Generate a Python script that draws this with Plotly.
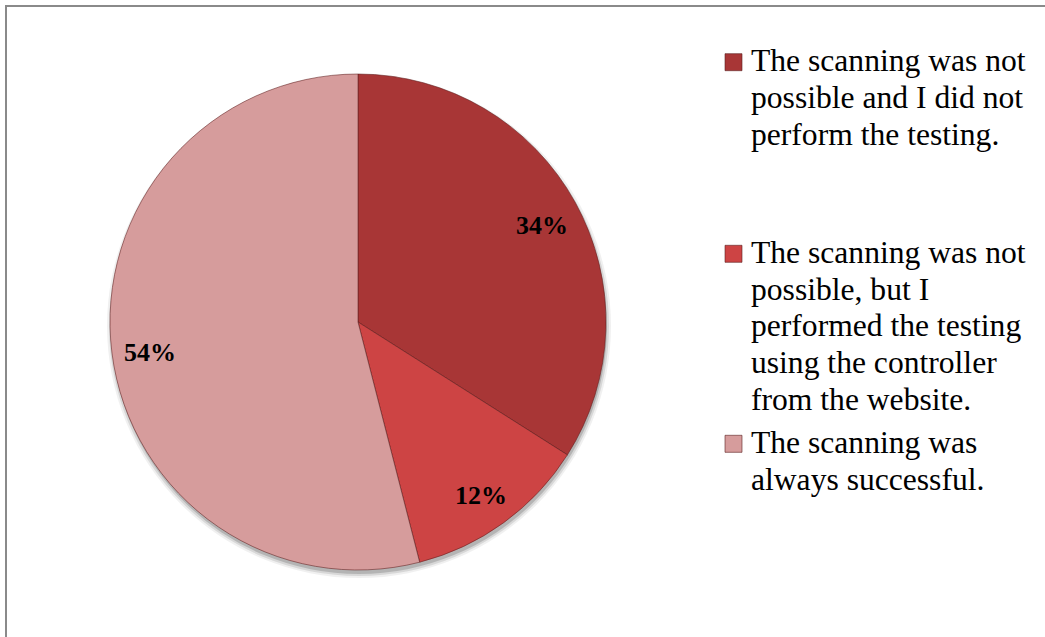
import plotly.graph_objects as go
import math

# Survey answers about the scanning step
categories = [
    "The scanning was not<br>possible and I did not<br>perform the testing.",
    "The scanning was not<br>possible, but I<br>performed the testing<br>using the controller<br>from the website.",
    "The scanning was<br>always successful.",
]
shares = [34, 12, 54]
slice_colors = ["#A83636", "#CD4444", "#D69C9C"]

W, H = 1045, 637
SERIF = "Liberation Serif, Times New Roman, serif"

# pie geometry in pixels
CX, CY, R = 358, 322, 248


def px(x):
    return x / W


def py(y):
    return 1 - y / H


fig = go.Figure()

fig.add_trace(go.Pie(
    labels=[c.replace("<br>", " ") for c in categories],
    values=shares,
    sort=False,
    direction="clockwise",
    rotation=0,
    marker=dict(colors=slice_colors, line=dict(color="rgba(95,30,30,0.55)", width=1)),
    textinfo="none",
    hoverinfo="label+percent",
    showlegend=False,
    domain=dict(x=[px(CX - R), px(CX + R)], y=[py(CY + R), py(CY - R)]),
))

shapes = []
annotations = []

# soft drop shadow beneath the pie
for grow, alpha in [(4, 0.06), (2, 0.10), (0, 0.16)]:
    shapes.append(dict(
        type="circle", xref="paper", yref="paper", layer="below",
        x0=px(CX - R - grow + 1), x1=px(CX + R + grow + 1),
        y0=py(CY + R + grow + 4), y1=py(CY - R - grow + 4),
        fillcolor=f"rgba(0,0,0,{alpha})", line=dict(width=0),
    ))

# percentage labels placed along each slice's mid-angle
total = sum(shares)
cum = 0
for v in shares:
    mid = (cum + v / 2) / total * 2 * math.pi
    cum += v
    r = 0.845 * R
    lx = CX + r * math.sin(mid)
    ly = CY - r * math.cos(mid) + 4
    annotations.append(dict(
        x=px(lx), y=py(ly), xref="paper", yref="paper",
        text=f"<b>{round(v / total * 100)}%</b>", showarrow=False,
        font=dict(family=SERIF, size=26, color="black"),
        xanchor="center", yanchor="middle",
    ))

# legend drawn line by line
LEG_FONT = 31.6
LINE_STEP = 36.7
first_baselines = [71.7, 263.3, 453.3]
for cat, color, base in zip(categories, slice_colors, first_baselines):
    shapes.append(dict(
        type="rect", xref="paper", yref="paper",
        x0=px(725), x1=px(742), y0=py(base - 1), y1=py(base - 18),
        fillcolor=color, line=dict(color="rgba(90,30,30,0.6)", width=1),
    ))
    for i, line in enumerate(cat.split("<br>")):
        bl = base + i * LINE_STEP
        annotations.append(dict(
            x=px(749), y=py(bl - 11), xref="paper", yref="paper",
            text=line, showarrow=False,
            font=dict(family=SERIF, size=LEG_FONT, color="black"),
            xanchor="left", yanchor="middle",
        ))

# chart frame
shapes.append(dict(
    type="rect", xref="paper", yref="paper",
    x0=px(6), x1=1.05, y0=-0.05, y1=py(6),
    line=dict(color="#8A8A8A", width=2), fillcolor="rgba(0,0,0,0)",
))

fig.update_layout(
    width=W, height=H,
    margin=dict(l=0, r=0, t=0, b=0),
    paper_bgcolor="white", plot_bgcolor="white",
    shapes=shapes, annotations=annotations,
)

fig.write_html("out.html")
